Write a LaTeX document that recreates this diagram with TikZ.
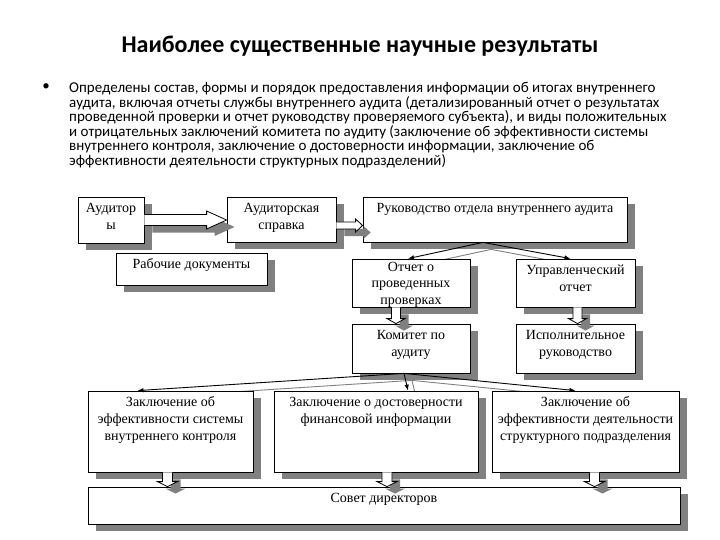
\documentclass[tikz,border=0pt]{standalone}
\usepackage{fontspec}
\setmainfont{Liberation Serif}
\newfontfamily\slidefont{Carlito}
\usetikzlibrary{calc,shadows,backgrounds,arrows.meta}

\newcommand{\inbox}[3]{\parbox[c][#2][t]{#1}{\centering\strut #3\par}}

\begin{document}
\begin{tikzpicture}[x=1pt, y=-1pt]
  \begin{scope}[on background layer]
    \fill [white] (0, 0) rectangle (720, 540);  % Folie
  \end{scope}
  \tikzstyle{boxshadow}=[drop shadow={shadow xshift=8pt, shadow yshift=-7pt, fill=black!50, opacity=1}]
  \tikzstyle{box}=[rectangle, draw, line width=0.8pt, fill=white, boxshadow, inner xsep=2pt, inner ysep=4pt, font=\fontsize{14}{16.8}\selectfont]
  \tikzstyle{link}=[line width=0.9pt, -{Latex[length=6pt, width=4.5pt]}]
  \tikzstyle{linkshadow}=[link, draw=black!50, transform canvas={shift={(8pt,-7pt)}}]
  \tikzset{
    harrow/.style n args={4}{draw, fill=white, line width=0.8pt, boxshadow, to path={
      let \p1=(\tikztostart), \p2=(\tikztotarget) in
      (\x1, {\y1+(#1)+(#2)}) -- ({\x2-(#4)}, {\y1+(#1)+(#2)}) -- ({\x2-(#4)}, {\y1+(#1)+(#3)})
      -- (\x2, {\y1+(#1)}) -- ({\x2-(#4)}, {\y1+(#1)-(#3)}) -- ({\x2-(#4)}, {\y1+(#1)-(#2)})
      -- (\x1, {\y1+(#1)-(#2)})}},
    varrow/.style n args={4}{draw, fill=white, line width=0.8pt, boxshadow, to path={
      let \p1=(\tikztostart), \p2=(\tikztotarget) in
      ({\x1+(#1)-(#2)}, \y1) -- ({\x1+(#1)-(#2)}, {\y2+(#4)}) -- ({\x1+(#1)-(#3)}, {\y2+(#4)})
      -- ({\x1+(#1)}, \y2) -- ({\x1+(#1)+(#3)}, {\y2+(#4)}) -- ({\x1+(#1)+(#2)}, {\y2+(#4)})
      -- ({\x1+(#1)+(#2)}, \y1)}}}

  % Kopf der Folie
  \node[font=\slidefont\bfseries\fontsize{24}{29}\selectfont] (title) at (360, 46.5)
    {Наиболее существенные научные результаты};
  \node[font=\slidefont\fontsize{15}{15}\selectfont] (dot) at (46, 87) {•};
  \node[anchor=north west, align=left, inner sep=0pt, font=\slidefont\fontsize{15}{14.6}\selectfont] (txt) at (69, 82)
    {Определены состав, формы и порядок предоставления информации об итогах внутреннего\\
     аудита, включая отчеты службы внутреннего аудита (детализированный отчет о результатах\\
     проведенной проверки и отчет руководству проверяемого субъекта), и виды положительных\\
     и отрицательных заключений комитета по аудиту (заключение об эффективности системы\\
     внутреннего контроля, заключение о достоверности информации, заключение об\\
     эффективности деятельности структурных подразделений)};

  % Schema
  \node[box] (aud)  at (111, 220)     {\inbox{62pt}{38pt}{Аудитор\\ы}};
  \node[box] (spr)  at (281.5, 219.5) {\inbox{105pt}{37pt}{Аудиторская\\справка}};
  \node[box] (rab)  at (191.5, 269)   {\inbox{147pt}{24pt}{Рабочие документы}};
  \node[box] (ruk)  at (495, 219.5)   {\inbox{260pt}{37pt}{Руководство отдела внутреннего аудита}};
  \node[box, inner ysep=1pt] (otch) at (411, 283)
    {\fontsize{14}{16.3}\selectfont\inbox{114pt}{46pt}{Отчет о\\проведенных\\проверках}};
  \node[box] (upr)  at (575.5, 283)   {\inbox{115pt}{40pt}{Управленческий\\отчет}};
  \node[box] (kom)  at (411, 348.5)   {\inbox{114pt}{41pt}{Комитет по\\аудиту}};
  \node[box] (isp)  at (575.5, 348.5) {\inbox{115pt}{41pt}{Исполнительное\\руководство}};
  \node[box] (z1)   at (170.5, 431.5) {\inbox{161pt}{73pt}{Заключение об\\эффективности системы\\внутреннего контроля}};
  \node[box] (z2)   at (376, 431.5)   {\inbox{200pt}{73pt}{Заключение о достоверности\\финансовой информации}};
  \node[box] (z3)   at (585.5, 431.5) {\inbox{183pt}{73pt}{Заключение об\\эффективности деятельности\\структурного подразделения}};
  \node[box] (sov)  at (384, 505.5)   {\inbox{588pt}{29pt}{Совет директоров}};

  \path[harrow={0pt}{5.5pt}{9pt}{20pt}] (aud.east) to (spr.west);
  \path[harrow={-6pt}{3.5pt}{6.5pt}{7pt}] (spr.east) to (ruk.west);
  \path[varrow={-15pt}{4.5pt}{9pt}{5pt}] (otch.south) to (kom.north);
  \path[varrow={2pt}{4.5pt}{9pt}{5pt}] (upr.south) to (isp.north);
  \path[varrow={-3pt}{5pt}{10pt}{5pt}] (z1.south) to (sov.north);
  \path[varrow={11pt}{5pt}{10pt}{5pt}] (z2.south) to (sov.north);
  \path[varrow={9pt}{5pt}{10pt}{5pt}] (z3.south) to (sov.north);

  \begin{scope}[on background layer]
    \draw[linkshadow] ([xshift=-12pt]ruk.south) -- ([xshift=-3pt]otch.north);
    \draw[linkshadow] ([xshift=-12pt]ruk.south) -- ([xshift=-5pt]upr.north);
    \draw[linkshadow] ([xshift=-7pt]kom.south) -- ([xshift=-33pt]z1.north);
    \draw[linkshadow] ([xshift=-7pt]kom.south) -- ([xshift=32pt]z2.north);
    \draw[linkshadow] ([xshift=-7pt]kom.south) -- ([xshift=-10pt]z3.north);
  \end{scope}
  \draw[link] ([xshift=-12pt]ruk.south) -- ([xshift=-3pt]otch.north);
  \draw[link] ([xshift=-12pt]ruk.south) -- ([xshift=-5pt]upr.north);
  \draw[link] ([xshift=-7pt]kom.south) -- ([xshift=-33pt]z1.north);
  \draw[link] ([xshift=-7pt]kom.south) -- ([xshift=32pt]z2.north);
  \draw[link] ([xshift=-7pt]kom.south) -- ([xshift=-10pt]z3.north);
\end{tikzpicture}
\end{document}
